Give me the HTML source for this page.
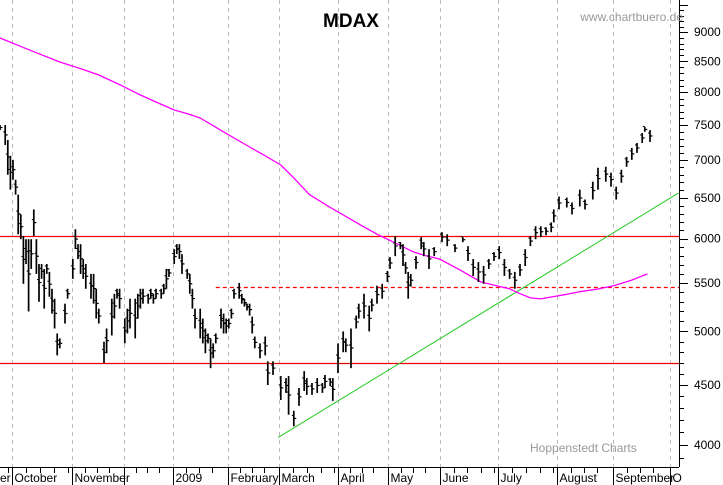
<!DOCTYPE html>
<html><head><meta charset="utf-8">
<style>
body{margin:0;background:#fff;}
svg{display:block;font-family:"Liberation Sans",sans-serif;}
</style></head>
<body>
<svg id="chart" width="723" height="485" viewBox="0 0 723 485" xmlns="http://www.w3.org/2000/svg">
<rect width="723" height="485" fill="#fff"/>
<g id="grid"></g>
<g id="levels"></g>
<g id="bars"></g>
<g id="axes"></g>
<text x="351" y="27" font-size="19" font-weight="bold" text-anchor="middle" fill="#000">MDAX</text>
<text x="683" y="21" font-size="12" text-anchor="end" fill="#999">www.chartbuero.de</text>
<text x="530" y="452" font-size="12" fill="#999">Hoppenstedt Charts</text>
</svg>
<script>
const days=[0,2,3,4,5,6,7,8,9,10,11,12,13,14,15,16,17,18,19,20,21,22,23,25,26,28,29,30,31,32,33,35,36,37,38,40,41,43,44,45,46,48,49,50,52,53,54,55,57,58,59,60,62,63,64,65,67,68,69,70,72,73,74,75,77,78,79,80,81,82,83,85,86,87,88,89,90,92,93,94,95,96,97,98,100,102,103,105,108,110,111,113,115,117,118,120,122,124,125,127,128,130,132,133,135,137,138,140,142,143,145,147,149,150,152,154,155,156,157,158,160,162,163,165,167,170,172,175,178,180,182,184,186,188,190,192,194,196,198,200,202,204,206,208,210,212,213,215,218,220,223,225,228,230,233,235,237,239,241,243,245,247,248,250];
const highs=[7500,7500,7283,7060,7004,6736,6542,6292,6030,5993,5993,5993,6354,5993,5708,5708,5653,5708,5620,5437,5332,4980,4932,5280,5437,5764,6111,5935,5935,5764,5708,5598,5598,5437,5229,4900,5029,5332,5384,5437,5437,5128,5229,5332,5332,5384,5437,5437,5384,5437,5384,5437,5437,5490,5653,5653,5877,5935,5935,5820,5653,5598,5437,5229,5229,5128,5029,4980,4932,4884,4980,5229,5178,5128,5128,5229,5437,5500,5384,5332,5280,5280,5148,4950,4884,4950,4715,4715,4580,4562,4580,4278,4474,4625,4562,4518,4562,4518,4590,4562,4562,4884,5000,4932,5029,5158,5280,5384,5260,5332,5470,5490,5630,5786,6030,5960,5935,5730,5620,5598,5797,6017,5960,5877,5900,6076,6052,5935,6017,5912,5764,5730,5686,5764,5843,5912,5764,5653,5620,5708,5877,6030,6147,6147,6135,6195,6354,6517,6504,6441,6606,6479,6710,6896,6910,6830,6645,6869,7045,7170,7240,7383,7470,7426];
const lows=[7426,7212,6802,6606,6736,6542,6052,5993,5490,5708,5200,5653,6030,5598,5300,5544,5229,5598,5352,5178,5029,4770,4837,5078,5332,5544,5877,5764,5598,5544,5437,5332,5280,5128,5078,4697,4790,4960,5128,5332,5229,4884,4980,5029,4932,5128,5229,5280,5280,5332,5280,5332,5332,5384,5437,5565,5708,5820,5764,5598,5544,5384,5229,5029,4932,4884,4790,4884,4652,4743,4884,5029,4980,4980,5029,5128,5332,5332,5280,5250,5210,5158,4980,4837,4743,4770,4500,4590,4370,4431,4245,4150,4320,4448,4414,4414,4431,4431,4474,4490,4362,4607,4800,4800,4652,5029,5128,5128,5000,5200,5280,5332,5510,5653,5797,5877,5686,5598,5332,5460,5653,5877,5797,5653,5797,5958,5912,5843,5958,5742,5576,5510,5490,5653,5742,5764,5576,5544,5437,5576,5686,5912,5993,6017,6040,6076,6195,6354,6379,6292,6391,6354,6479,6606,6710,6645,6479,6696,6910,7004,7100,7240,7400,7255];
const maDays=[0,12,23,31,38,46,54,61,67,72,77,86,96,102,108,113,119,127,135,140,145,152,159,164,169,177,185,191,196,200,204,208,212,218,223,230,236,243,249];
const maVals=[8899,8680,8489,8380,8275,8120,7956,7830,7725,7670,7604,7400,7183,7060,6934,6760,6542,6380,6231,6140,6052,5950,5845,5800,5764,5640,5510,5470,5437,5385,5340,5330,5350,5378,5406,5435,5470,5530,5598];
const trendDays=[107,261];
const trendVals=[4060,6563];
const resistance=[6030];
const support=[4700];
const dashedLevel=[5460];
const dashedStartDay=[83];
const yLabels=[4000,4500,5000,5500,6000,6500,7000,7500,8000,8500,9000];
const months=["er","October","November","","2009","February","March","April","May","June","July","August","September","O"];
const monthStartDays=[-18,4.6,27.7,47.7,66.5,87.7,107.3,130,149.2,169.2,191.5,214.2,235.8,257.7,280];

const NS="http://www.w3.org/2000/svg";
const X0=0, DX=2.6, RIGHT=679, AXY=467;
function xs(d){return X0+d*DX;}
function ys(p){return 445-509*Math.log(p/4000);}
function mk(tag,attrs,parent){const e=document.createElementNS(NS,tag);for(const k in attrs)e.setAttribute(k,attrs[k]);parent.appendChild(e);return e;}
const grid=document.getElementById('grid'),levels=document.getElementById('levels'),bars=document.getElementById('bars'),axes=document.getElementById('axes');

months.forEach((m,i)=>{
  const x=Math.round(xs(monthStartDays[i+1]))+0.5;
  const px=Math.round(xs(monthStartDays[i]))+0.5;
  if(x<RIGHT){
    const g=mk('line',{x1:x,y1:0,x2:x,y2:AXY,stroke:'#bbb','stroke-width':1,'stroke-dasharray':'4,4'},grid);
    
    
    const s=mk('line',{x1:x,y1:AXY,x2:x,y2:485,stroke:'#000','stroke-width':1},axes);
    
    
  }
  const t=mk('text',{x:Math.max(px+2,0),y:482,'font-size':12,fill:'#000'},axes);
  t.textContent=m;
  
  
  for(let k=1;k<5;k++){const wx=Math.round(px+k*(x-px)/4.3)+0.5; if(wx>0&&wx<x-3&&wx<RIGHT){const w=mk('line',{x1:wx,y1:AXY,x2:wx,y2:AXY+6,stroke:'#000'},axes);
    
    }}
});

function hline(p,x1,color,dash,name){
  const y=Math.round(ys(p))+0.5;
  const l=mk('line',{x1:x1,y1:y,x2:RIGHT,y2:y,stroke:color,'stroke-width':1.3},levels);
  if(dash)l.setAttribute('stroke-dasharray',dash);
  
  
}
hline(resistance[0],0,'#f00',null,'resistance-line');
hline(support[0],0,'#e00',null,'support-line');
hline(dashedLevel[0],xs(dashedStartDay[0]),'#f00','4,3','dashed-resistance-line');

const tr=mk('line',{x1:xs(trendDays[0]),y1:ys(trendVals[0]),x2:xs(trendDays[1]),y2:ys(trendVals[1]),stroke:'#2c2','stroke-width':1},levels);



const ma=mk('polyline',{points:maDays.map((d,i)=>xs(d).toFixed(1)+','+ys(maVals[i]).toFixed(1)).join(' '),fill:'none',stroke:'#f0f','stroke-width':1.3,'stroke-linejoin':'round'},levels);



days.forEach((d,i)=>{
  const x=xs(d);
  const b=mk('line',{x1:x,y1:ys(highs[i]),x2:x,y2:ys(lows[i]),stroke:'#000','stroke-width':1.7},bars);
  
  
  const cy=ys((highs[i]+lows[i])/2);
  const c=mk('line',{x1:x,y1:cy,x2:x+2.5,y2:cy,stroke:'#000','stroke-width':1.2},bars);
  
  
  const o=mk('line',{x1:x-2,y1:cy-3,x2:x,y2:cy-3,stroke:'#000','stroke-width':1},bars);
  
  
});

const ax=mk('line',{x1:0,y1:AXY+0.5,x2:RIGHT,y2:AXY+0.5,stroke:'#000','stroke-width':1},axes);


const ay=mk('line',{x1:RIGHT+0.5,y1:0,x2:RIGHT+0.5,y2:AXY,stroke:'#000','stroke-width':1},axes);


for(let p=3900;p<=9500;p+=100){
  const y=Math.round(ys(p))+0.5; if(y<0||y>AXY)continue;
  const major=p%500===0;
  const t=mk('line',{x1:RIGHT,y1:y,x2:RIGHT+(major?9:5),y2:y,stroke:'#000'},axes);
  
  
}
yLabels.forEach(v=>{
  const t=mk('text',{x:694,y:ys(v)+4,'font-size':12,fill:'#000'},axes);
  t.textContent=v;
  
  
});
</script>
</body></html>
